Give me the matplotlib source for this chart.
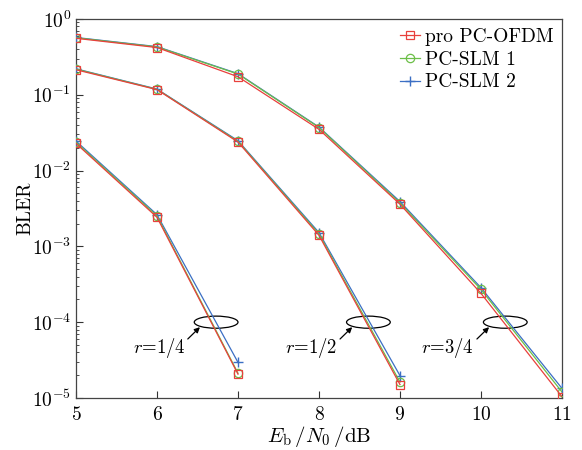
import matplotlib
matplotlib.use("Agg")
import matplotlib.pyplot as plt
from matplotlib.patches import Ellipse

plt.rcParams["font.family"] = ["cmr10", "DejaVu Serif"]
plt.rcParams["mathtext.fontset"] = "cm"
plt.rcParams["axes.formatter.use_mathtext"] = True

# Eb/N0 points for each code rate
snr_q = [5, 6, 7]
snr_h = [5, 6, 7, 8, 9]
snr_t = [5, 6, 7, 8, 9, 10, 11]

# r = 1/4
pro_q = [0.0228, 0.00242, 2.06e-5]
slm1_q = [0.0236, 0.00252, 2.12e-5]
slm2_q = [0.0245, 0.00262, 2.95e-5]

# r = 1/2
pro_h = [0.214, 0.117, 0.0238, 0.00140, 1.50e-5]
slm1_h = [0.218, 0.118, 0.0243, 0.00146, 1.62e-5]
slm2_h = [0.220, 0.119, 0.0248, 0.00152, 1.97e-5]

# r = 3/4
pro_t = [0.556, 0.420, 0.173, 0.0350, 0.00360, 2.40e-4, 1.04e-5]
slm1_t = [0.565, 0.428, 0.188, 0.0370, 0.00375, 2.70e-4, 1.20e-5]
slm2_t = [0.570, 0.432, 0.190, 0.0375, 0.00390, 2.85e-4, 1.34e-5]

labels = ["pro PC-OFDM", "PC-SLM 1", "PC-SLM 2"]
red, green, blue = "#e8403c", "#6cbf48", "#3b6fc4"

fig = plt.figure(figsize=(5.82, 4.5), dpi=100)
ax = fig.add_axes([0.1306, 0.1156, 0.835, 0.8422])

for i, (x, pro, s1, s2) in enumerate([(snr_q, pro_q, slm1_q, slm2_q),
                                      (snr_h, pro_h, slm1_h, slm2_h),
                                      (snr_t, pro_t, slm1_t, slm2_t)]):
    ax.semilogy(x, s2, color=blue, marker="+", ms=7, mew=1.0, lw=0.9,
                label=labels[2] if i == 0 else None, zorder=3)
    ax.semilogy(x, s1, color=green, marker="o", ms=6, mfc="none", mew=0.9, lw=0.9,
                label=labels[1] if i == 0 else None, zorder=3)
    ax.semilogy(x, pro, color=red, marker="s", ms=6, mfc="none", mew=0.9, lw=0.9,
                label=labels[0] if i == 0 else None, zorder=4)

ax.set_xlim(5, 11)
ax.set_ylim(1e-5, 1)
ax.set_xticks(range(5, 12))
ax.tick_params(which="both", direction="in", labelsize=14, colors="#333333",
               labelcolor="black")
ax.tick_params(which="major", length=5)
ax.tick_params(which="minor", length=2.5)
ax.tick_params(axis="x", pad=6)
for s in ax.spines.values():
    s.set_color("#444444")
    s.set_linewidth(0.9)

ax.set_xlabel(r"$E_\mathrm{b}\,/N_0\,/\mathrm{dB}$", fontsize=15, labelpad=0)
ax.set_ylabel("BLER", fontsize=14, labelpad=-2)

# rate annotations: ellipse around each curve bundle, arrow from the label
rates = [(6.73, "$r$=1/4", 6.03), (8.61, "$r$=1/2", 7.9), (10.30, "$r$=3/4", 9.58)]
for cx, txt, tx in rates:
    e = Ellipse((cx, 0.2), 0.54, 0.032, transform=ax.get_xaxis_transform(),
                fill=False, ec="black", lw=0.9)
    ax.add_patch(e)
    ax.annotate("", xy=(cx - 0.2, 8.6e-5), xytext=(cx - 0.35, 6.0e-5),
                arrowprops=dict(arrowstyle="-|>", color="black", lw=0.9,
                                mutation_scale=8, shrinkA=0, shrinkB=0))
    ax.text(tx, 4.5e-5, txt, fontsize=13.5, ha="center", va="center")

handles, labs = ax.get_legend_handles_labels()
order = [labs.index(l) for l in labels]
ax.legend([handles[k] for k in order], labels, loc="upper right", frameon=False,
          fontsize=14, handlelength=1.0, handletextpad=0.25, labelspacing=0.25,
          borderaxespad=0.05)

fig.savefig("out.png", dpi=100)
